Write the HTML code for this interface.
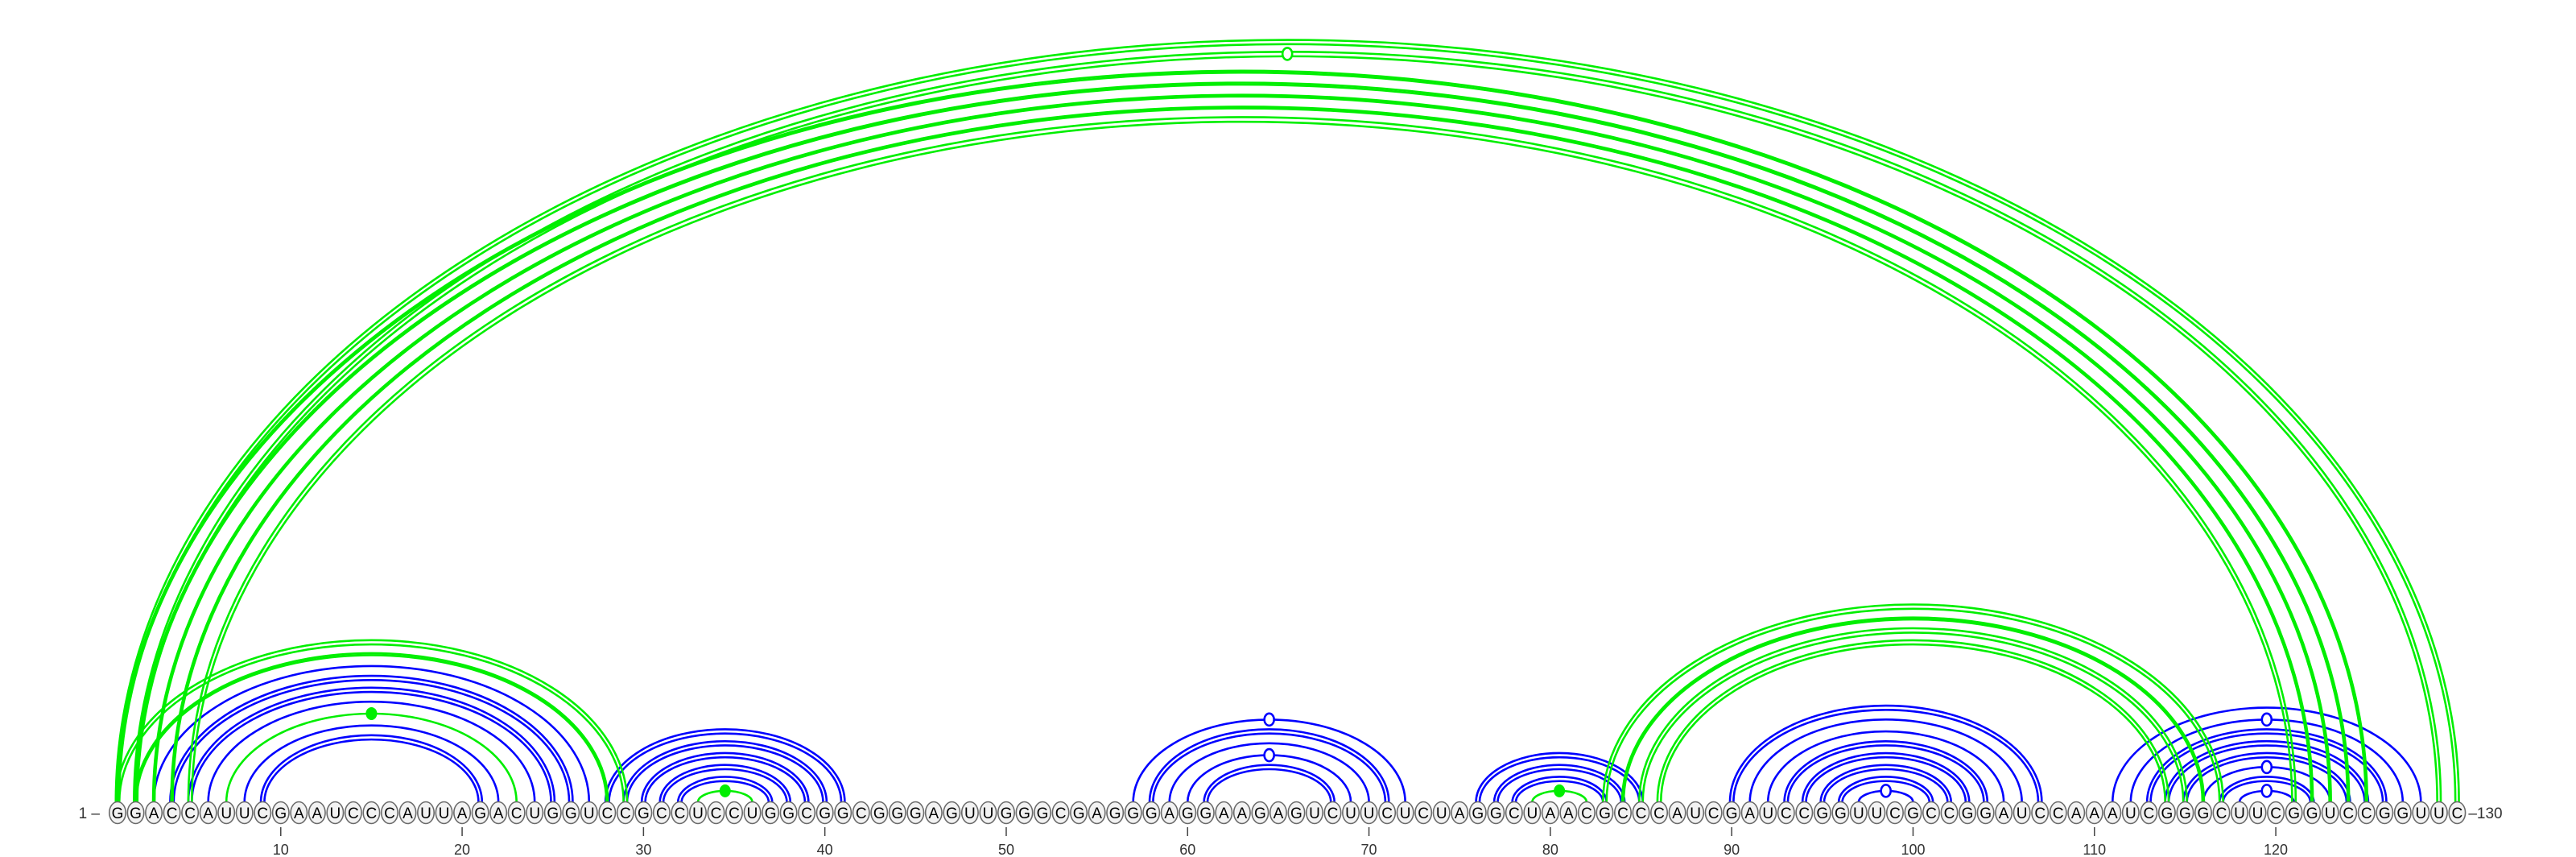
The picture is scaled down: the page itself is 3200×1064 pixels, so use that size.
<!DOCTYPE html>
<html><head><meta charset="utf-8"><style>
html,body{margin:0;padding:0;background:#fff;}
svg{display:block;font-family:"Liberation Sans",sans-serif;}
</style></head><body>
<svg id="chart" width="3200" height="1064" viewBox="0 0 3200 1064" xmlns="http://www.w3.org/2000/svg">
<g id="arcs"></g>
<g id="bases"></g>
<g id="axis"></g>
</svg>
<script>
const sequence = "GGACCAUUCGAAUCCCAUUAGACUGGUCCGCCUCCUGGCGGCGGGAGUUGGGCGAGGGAGGAAGAGUCUUCUCUAGGCUAACGCCCAUCGAUCCGGUUCGCCGGAUCCAAAUCGGGCUUCGGUCCGGUUC";
const tickPositions = [10,20,30,40,50,60,70,80,90,100,110,120];
const pairI = [3,4,5,6,8,9, 28,29,30,31,32, 57,58,59,60,61, 76,77,78, 90,91,92,93,94,95,96,97, 111,112,113,114,115,116,117,118, 7,33,79, 1,2, 83,84,85,86, 1,2,1,2,3,4,5];
const pairJ = [27,26,25,24,22,21, 41,40,39,38,37, 72,71,70,69,68, 85,84,83, 107,106,105,104,103,102,101,100, 128,127,126,125,124,123,122,121, 23,36,82, 29,28, 117,116,115,114, 130,129,125,124,123,122,121];
const pairColor = ["b","b","b","b","b","b", "b","b","b","b","b", "b","b","b","b","b", "b","b","b", "b","b","b","b","b","b","b","b", "b","b","b","b","b","b","b","b", "g","g","g", "g","g", "g","g","g","g", "g","g","g","g","g","g","g"];
const pairStyle = ["s","d","d","s","s","d", "d","d","d","d","d", "s","d","s","s","d", "d","d","d", "d","s","s","d","d","d","d","s", "s","s","d","d","d","s","d","s", "s","s","s", "d","t", "d","t","d","d", "d","d","t","t","t","t","d"];
const pairMarker = ["","","","","","", "","","","","", "o","","","o","", "","","", "","","","","","","","o", "","o","","","","o","","o", "f","f","f", "","", "","","","", "","o","","","","",""];

const NS="http://www.w3.org/2000/svg";
const X0=146, STEP=22.53, BASEY=1009, ARCY=996;
function xPos(i){return X0+(i-1)*STEP;}
function arcHeight(half){return Math.max(8,0.655*half-8);}
const COLORS={b:"#0000ff",g:"#00ee00"};
const arcs=document.getElementById('arcs');
function arcPath(x1,x2,h){
  const rx=(x2-x1)/2;
  return `M${x1},${ARCY} A${rx},${h} 0 0 1 ${x2},${ARCY}`;
}
for(let k=0;k<pairI.length;k++){
  const x1=xPos(pairI[k]), x2=xPos(pairJ[k]);
  const half=(x2-x1)/2, h=arcHeight(half);
  const col=COLORS[pairColor[k]];
  const st=pairStyle[k];
  const offs = st==="s"?[0]:(st==="t"?[-1,1]:[-2.2,2.2]);
  const g=document.createElementNS(NS,'g');
  
  
  offs.forEach(o=>{
    const p=document.createElementNS(NS,'path');
    p.setAttribute('d',arcPath(x1-o,x2+o,h+o*1.2));
    p.setAttribute('fill','none');
    p.setAttribute('stroke',col);
    p.setAttribute('stroke-width','2.6');
    
    
    g.appendChild(p);
  });
  if(pairMarker[k]){
    const m=document.createElementNS(NS,'ellipse');
    m.setAttribute('cx',(x1+x2)/2);
    m.setAttribute('cy',ARCY-h);
    if(pairMarker[k]==="f"){
      m.setAttribute('rx',7);m.setAttribute('ry',8);m.setAttribute('fill',col);
    } else {
      m.setAttribute('rx',6);m.setAttribute('ry',7.5);m.setAttribute('fill','#fff');
      m.setAttribute('stroke',col);m.setAttribute('stroke-width','2.6');
    }
    
    
    g.appendChild(m);
  }
  arcs.appendChild(g);
}
const bases=document.getElementById('bases');
for(let i=1;i<=sequence.length;i++){
  const x=xPos(i);
  const c=document.createElementNS(NS,'ellipse');
  c.setAttribute('cx',x);c.setAttribute('cy',BASEY);c.setAttribute('rx',10.2);c.setAttribute('ry',13.5);
  c.setAttribute('fill','#f2f2f2');c.setAttribute('stroke','#6a6a6a');c.setAttribute('stroke-width','1.6');
  
  
  bases.appendChild(c);
  const t=document.createElementNS(NS,'text');
  t.setAttribute('x',x);t.setAttribute('y',BASEY+7);t.setAttribute('text-anchor','middle');
  t.setAttribute('font-size','19');t.setAttribute('fill','#000');
  t.textContent=sequence[i-1];
  
  
  bases.appendChild(t);
}
const axis=document.getElementById('axis');
tickPositions.forEach(p=>{
  const x=xPos(p);
  const l=document.createElementNS(NS,'line');
  l.setAttribute('x1',x);l.setAttribute('x2',x);l.setAttribute('y1',1027);l.setAttribute('y2',1038);
  l.setAttribute('stroke','#444');l.setAttribute('stroke-width','1.5');
  
  
  axis.appendChild(l);
  const t=document.createElementNS(NS,'text');
  t.setAttribute('x',x);t.setAttribute('y',1061);t.setAttribute('text-anchor','middle');
  t.setAttribute('font-size','18');t.setAttribute('fill','#333');
  t.textContent=p;
  
  
  axis.appendChild(t);
});
const s=document.createElementNS(NS,'text');
s.setAttribute('x',xPos(1)-22);s.setAttribute('y',BASEY+7);s.setAttribute('text-anchor','end');
s.setAttribute('font-size','19');s.setAttribute('fill','#333');
s.textContent='1 –';


axis.appendChild(s);
const e=document.createElementNS(NS,'text');
e.setAttribute('x',xPos(sequence.length)+14);e.setAttribute('y',BASEY+7);
e.setAttribute('font-size','19');e.setAttribute('fill','#333');
e.textContent='–130';


axis.appendChild(e);
</script>
</body></html>
